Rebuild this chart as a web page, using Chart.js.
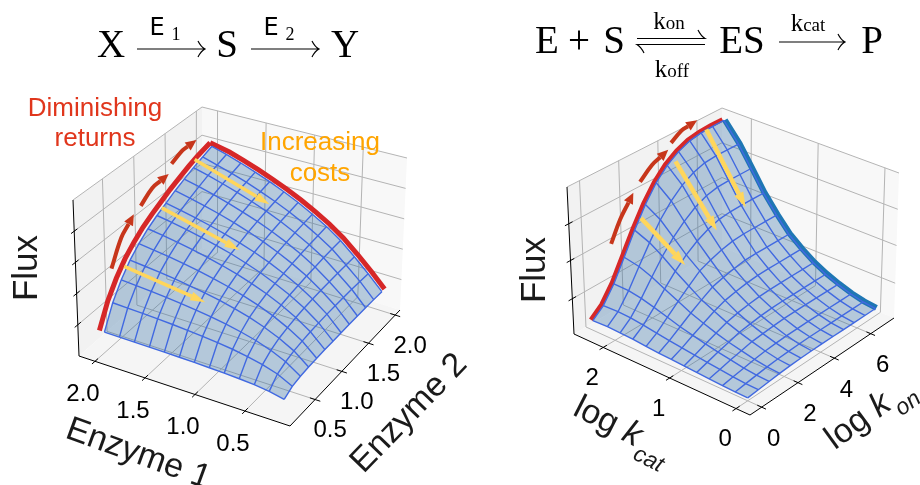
<!DOCTYPE html>
<html>
<head>
<meta charset="utf-8">
<title>Flux surfaces</title>
<script src="https://cdn.jsdelivr.net/npm/chart.js@4/dist/chart.umd.js"></script>
<style>
html, body { margin: 0; padding: 0; background: #fff; }
#chart { display: block; }
</style>
</head>
<body>
<canvas id="chart" width="920" height="485"></canvas>
<script>
// left surface: rows follow enzyme1Grid, columns follow enzyme2Grid
const enzyme1Grid = [0.2, 0.35, 0.5, 0.65, 0.8, 0.95, 1.1, 1.25, 1.4, 1.55, 1.7, 1.85, 2.0];
const enzyme2Grid = [0.2, 0.35, 0.5, 0.65, 0.8, 0.95, 1.1, 1.25, 1.4, 1.55, 1.7, 1.85, 2.0];
const enzymeFlux = [
    [.074, .103, .114, .120, .123, .125, .126, .127, .128, .128, .128, .127, .125],
    [.093, .149, .174, .191, .201, .208, .213, .217, .219, .220, .220, .218, .215],
    [.104, .178, .216, .241, .257, .270, .279, .286, .290, .293, .296, .298, .300],
    [.111, .198, .248, .281, .304, .321, .334, .344, .354, .362, .370, .376, .380],
    [.116, .214, .272, .314, .342, .364, .380, .394, .407, .419, .429, .437, .446],
    [.119, .226, .293, .341, .374, .401, .421, .438, .454, .468, .481, .492, .502],
    [.122, .236, .309, .364, .402, .433, .456, .476, .496, .512, .528, .541, .554],
    [.124, .244, .323, .383, .426, .461, .488, .510, .533, .552, .570, .585, .600],
    [.126, .251, .335, .400, .447, .485, .515, .540, .566, .587, .608, .625, .642],
    [.127, .257, .345, .415, .465, .507, .540, .567, .596, .620, .643, .662, .681],
    [.128, .262, .354, .428, .482, .527, .562, .592, .623, .649, .674, .695, .717],
    [.129, .266, .362, .439, .496, .544, .582, .614, .647, .676, .704, .726, .750],
    [.130, .270, .370, .450, .510, .560, .600, .635, .670, .700, .730, .755, .780]
];

// right surface: rows follow kcatGrid, columns follow konGrid
const kcatGrid = [2.33, 2.11, 1.92, 1.73, 1.53, 1.34, 1.15, 0.96, 0.77, 0.58, 0.38, 0.19, 0];
const konGrid = [0, 0.58, 1.17, 1.75, 2.33, 2.92, 3.5, 4.08, 4.67, 5.25, 5.83, 6.42, 7];
const kineticFlux = [
    [.066, .125, .230, .370, .515, .650, .760, .840, .895, .930, .945, .950, .950],
    [.069, .127, .226, .348, .469, .584, .672, .741, .786, .813, .820, .820, .820],
    [.066, .123, .210, .312, .411, .497, .565, .620, .658, .676, .680, .680, .680],
    [.061, .111, .186, .267, .344, .412, .464, .503, .528, .538, .540, .540, .540],
    [.053, .097, .159, .222, .281, .340, .371, .397, .414, .420, .420, .420, .420],
    [.047, .085, .132, .180, .224, .266, .288, .305, .318, .320, .320, .320, .320],
    [.043, .074, .112, .148, .184, .212, .228, .241, .249, .250, .250, .250, .250],
    [.037, .063, .092, .119, .146, .164, .176, .185, .189, .190, .190, .190, .190],
    [.032, .053, .075, .095, .116, .127, .137, .143, .145, .145, .145, .145, .145],
    [.028, .044, .061, .076, .091, .098, .105, .109, .110, .110, .110, .110, .110],
    [.023, .035, .046, .058, .067, .073, .077, .079, .080, .080, .080, .080, .080],
    [.019, .028, .037, .045, .051, .055, .058, .060, .060, .060, .060, .060, .060],
    [.018, .025, .032, .039, .044, .047, .049, .050, .050, .050, .050, .050, .050]
];

// tick labels
const enzyme1Ticks = [2.0, 1.5, 1.0, 0.5];
const enzyme2Ticks = [0.5, 1.0, 1.5, 2.0];
const kcatTicks = [2, 1, 0];
const konTicks = [0, 2, 4, 6];
const enzymeFluxTicks = [0.2, 0.4, 0.6, 0.8];
const kineticFluxTicks = [0.24, 0.5, 0.75];

// annotation arrows as [first axis, second axis, flux]
const enzymeCosts = [
    [[2.0, 0.553, .44], [1.27, 0.69, .306]],
    [[2.0, 1.18, .625], [1.14, 1.06, .547]],
    [[2.0, 1.72, .78], [1.18, 1.637, .65]]
];
const enzymeReturns = [
    [[2.14, 0.57, .392], [2.14, 0.74, .541], [2.14, 0.95, .63]],
    [[2.14, 1.064, .65], [2.14, 1.254, .71], [2.14, 1.52, .72]],
    [[2.14, 1.567, .775], [2.14, 1.744, .81], [2.14, 1.97, .81]]
];
const kineticCosts = [
    [[2.29, 2.54, .59], [1.75, 2.92, .34]],
    [[2.29, 4.37, .854], [1.79, 4.75, .433]],
    [[2.29, 5.96, .967], [1.90, 6.65, .435]]
];
const kineticReturns = [
    [[2.39, 1.305, .483], [2.39, 1.807, .615], [2.39, 2.524, .75]],
    [[2.39, 2.88, .80], [2.39, 3.51, .873], [2.39, 4.35, .92]],
    [[2.39, 4.50, .958], [2.39, 5.04, 1.007], [2.39, 5.84, 1.023]]
];

// 3D boxes on the page: corners [bottom, top], a falls from A to B, b rises from B to C
const BOX_LEFT = {
    aHi: 2.16, aLo: 0.05, bLo: 0.03, bHi: 2.09,
    A: [[79, 356], [73, 200]], B: [[290, 426], [290, 260]],
    C: [[400, 310], [407, 158]], D: [[202, 248], [202, 107]]
};
const BOX_RIGHT = {
    aHi: 2.44, aLo: -0.21, bLo: -0.64, bHi: 7.28,
    A: [[574, 334], [567, 187]], B: [[750, 415], [750, 249]],
    C: [[894, 318], [899, 173]], D: [[722, 247], [722, 108]]
};

const COLOR_MESH = '#4169e1';
const COLOR_SURFACE = 'rgba(50, 110, 165, 0.33)';
const COLOR_EDGE_RED = '#d62728';
const COLOR_EDGE_BLUE = '#1f77b4';
const COLOR_ARROW_RED = '#c7361b';
const COLOR_ARROW_YELLOW = '#ffd65c';
const COLOR_GRID = '#b4b4b4';

// 箱の中の値をページ座標へ
function project(box, a, b, z) {
    const t1 = (box.aHi - a) / (box.aHi - box.aLo);
    const t2 = (b - box.bLo) / (box.bHi - box.bLo);
    const w = [(1 - t1) * (1 - t2), t1 * (1 - t2), t1 * t2, (1 - t1) * t2];
    const corners = [box.A, box.B, box.C, box.D];
    let x = 0, y = 0;
    for (let i = 0; i < 4; i++) {
        x += w[i] * (corners[i][0][0] * (1 - z) + corners[i][1][0] * z);
        y += w[i] * (corners[i][0][1] * (1 - z) + corners[i][1][1] * z);
    }
    return { x: x, y: y };
}

const datasets = [];
function addLine(points, color, width, extra) {
    datasets.push(Object.assign({
        data: points,
        showLine: true,
        pointRadius: 0,
        borderColor: color,
        borderWidth: width,
        tension: 0,
        clip: false,
        order: -datasets.length
    }, extra || {}));
}
function addShape(points, color) {
    addLine(points, 'rgba(0,0,0,0)', 0, { fill: 'shape', backgroundColor: color });
}

function addArrow(box, values, color, width, headLength, headWidth, tension) {
    const pts = values.map(v => project(box, v[0], v[1], v[2]));
    const tip = pts[pts.length - 1];
    const prev = pts[pts.length - 2];
    const len = Math.hypot(tip.x - prev.x, tip.y - prev.y);
    const ux = (tip.x - prev.x) / len, uy = (tip.y - prev.y) / len;
    const base = { x: tip.x - ux * headLength, y: tip.y - uy * headLength };
    const line = pts.slice(0, -1).concat([base]);
    addLine(line, color, width, { tension: tension });
    addShape([
        tip,
        { x: base.x - uy * headWidth / 2, y: base.y + ux * headWidth / 2 },
        { x: base.x + uy * headWidth / 2, y: base.y - ux * headWidth / 2 },
        tip
    ], color);
}

function buildPanel(box, aGrid, bGrid, flux, aTicks, bTicks, zTicks, opts) {
    const lastA = aGrid.indexOf(Math.max.apply(null, aGrid));
    const last = bGrid.length - 1;

    // 壁と床
    addShape([project(box, box.aHi, box.bLo, 0), project(box, box.aHi, box.bLo, 1), project(box, box.aHi, box.bHi, 1), project(box, box.aHi, box.bHi, 0)], '#f2f2f2');
    addShape([project(box, box.aHi, box.bHi, 0), project(box, box.aHi, box.bHi, 1), project(box, box.aLo, box.bHi, 1), project(box, box.aLo, box.bHi, 0)], '#f8f8f8');
    addShape([project(box, box.aHi, box.bLo, 0), project(box, box.aLo, box.bLo, 0), project(box, box.aLo, box.bHi, 0), project(box, box.aHi, box.bHi, 0)], '#f5f5f5');

    // グリッド
    aTicks.forEach(a => {
        addLine([project(box, a, box.bLo, 0), project(box, a, box.bHi, 0), project(box, a, box.bHi, 1)], COLOR_GRID, 1);
    });
    bTicks.forEach(b => {
        addLine([project(box, box.aLo, b, 0), project(box, box.aHi, b, 0), project(box, box.aHi, b, 1)], COLOR_GRID, 1);
    });
    zTicks.concat([1]).forEach(z => {
        addLine([project(box, box.aHi, box.bLo, z), project(box, box.aHi, box.bHi, z), project(box, box.aLo, box.bHi, z)], COLOR_GRID, 1);
    });

    // 軸
    addLine([project(box, box.aHi, box.bLo, 1), project(box, box.aHi, box.bLo, 0), project(box, box.aLo, box.bLo, 0), project(box, box.aLo, box.bHi, 0)], '#000', 1);
    const tickA = (box.aHi - box.aLo) * 0.025;
    const tickB = (box.bHi - box.bLo) * 0.025;
    aTicks.forEach(a => addLine([project(box, a, box.bLo - tickB, 0), project(box, a, box.bLo + tickB, 0)], '#000', 1));
    bTicks.forEach(b => addLine([project(box, box.aLo - tickA, b, 0), project(box, box.aLo + tickA, b, 0)], '#000', 1));
    zTicks.forEach(z => addLine([project(box, box.aHi, box.bLo - tickB, z), project(box, box.aHi, box.bLo + tickB, z)], '#000', 1));

    // 赤い縁
    const outA = aGrid[lastA] + opts.edgeOut;
    const outB = bGrid[last] + opts.edgeOut;
    addLine(bGrid.map((b, j) => project(box, outA, j === last ? outB : b, flux[lastA][j])), COLOR_EDGE_RED, opts.redWidth);
    if (opts.bothRed) {
        addLine(aGrid.map((a, i) => project(box, i === lastA ? outA : a, outB, flux[i][last])), COLOR_EDGE_RED, opts.redWidth);
    }

    // 面
    const outline = [];
    for (let j = 0; j <= last; j++) outline.push(project(box, aGrid[0], bGrid[j], flux[0][j]));
    for (let i = 1; i < aGrid.length; i++) outline.push(project(box, aGrid[i], bGrid[last], flux[i][last]));
    for (let j = last - 1; j >= 0; j--) outline.push(project(box, aGrid[aGrid.length - 1], bGrid[j], flux[aGrid.length - 1][j]));
    for (let i = aGrid.length - 2; i >= 0; i--) outline.push(project(box, aGrid[i], bGrid[0], flux[i][0]));
    addShape(outline, COLOR_SURFACE);

    if (opts.blueEdge) {
        addLine(aGrid.map((a, i) => project(box, a, bGrid[last] + opts.blueOut, flux[i][last])), COLOR_EDGE_BLUE, opts.blueEdge);
    }

    // メッシュ
    aGrid.forEach((a, i) => addLine(bGrid.map((b, j) => project(box, a, b, flux[i][j])), COLOR_MESH, 1.4));
    bGrid.forEach((b, j) => addLine(aGrid.map((a, i) => project(box, a, b, flux[i][j])), COLOR_MESH, 1.4));
}

buildPanel(BOX_LEFT, enzyme1Grid, enzyme2Grid, enzymeFlux, enzyme1Ticks, enzyme2Ticks, enzymeFluxTicks,
    { edgeOut: 0.05, redWidth: 5, bothRed: true });
buildPanel(BOX_RIGHT, kcatGrid, konGrid, kineticFlux, kcatTicks, konTicks, kineticFluxTicks,
    { edgeOut: 0.03, redWidth: 4.5, bothRed: false, blueEdge: 6, blueOut: 0.05 });

enzymeCosts.forEach(v => addArrow(BOX_LEFT, v, COLOR_ARROW_YELLOW, 3.5, 15, 9, 0));
enzymeReturns.forEach(v => addArrow(BOX_LEFT, v, COLOR_ARROW_RED, 4, 11, 10, 0.4));
kineticCosts.forEach(v => addArrow(BOX_RIGHT, v, COLOR_ARROW_YELLOW, 4.5, 15, 10, 0));
kineticReturns.forEach(v => addArrow(BOX_RIGHT, v, COLOR_ARROW_RED, 4, 11, 10, 0.4));

const SANS = '"Liberation Sans"';
const SERIF = '"Liberation Serif"';

function drawRuns(ctx, x, y, angle, runs) {
    ctx.save();
    ctx.translate(x, y);
    ctx.rotate(angle * Math.PI / 180);
    ctx.textBaseline = 'alphabetic';
    ctx.textAlign = 'left';
    let total = 0;
    runs.forEach(r => { ctx.font = r.font; total += ctx.measureText(r.text).width + (r.gap || 0); });
    let pos = -total / 2;
    runs.forEach(r => {
        ctx.font = r.font;
        ctx.fillStyle = r.color || '#1a1a1a';
        ctx.fillText(r.text, pos, r.dy || 0);
        pos += ctx.measureText(r.text).width + (r.gap || 0);
    });
    ctx.restore();
}

function centerText(ctx, text, x, y, font, color) {
    ctx.font = font;
    ctx.fillStyle = color;
    ctx.textAlign = 'center';
    ctx.textBaseline = 'middle';
    ctx.fillText(text, x, y);
}

const textPlugin = {
    id: 'chartText',
    afterDatasetsDraw(chart) {
        const ctx = chart.ctx;
        const px = p => ({ x: chart.scales.x.getPixelForValue(p.x), y: chart.scales.y.getPixelForValue(p.y) });

        // 目盛りラベル
        const tickFont = '24px ' + SANS;
        enzyme1Ticks.forEach(v => {
            const p = px(project(BOX_LEFT, v, BOX_LEFT.bLo, 0));
            centerText(ctx, v.toFixed(1), p.x - 12, p.y + 33, tickFont, '#000');
        });
        enzyme2Ticks.forEach(v => {
            const p = px(project(BOX_LEFT, BOX_LEFT.aLo, v, 0));
            centerText(ctx, v.toFixed(1), p.x + 15, p.y + 31, tickFont, '#000');
        });
        kcatTicks.forEach(v => {
            const p = px(project(BOX_RIGHT, v, BOX_RIGHT.bLo, 0));
            centerText(ctx, String(v), p.x - 11, p.y + 31, tickFont, '#000');
        });
        konTicks.forEach(v => {
            const p = px(project(BOX_RIGHT, BOX_RIGHT.aLo, v, 0));
            centerText(ctx, String(v), p.x + 12, p.y + 32, tickFont, '#000');
        });

        // 軸タイトル
        const axisFont = '34px ' + SANS;
        drawRuns(ctx, 135, 463, 20, [{ text: 'Enzyme 1', font: axisFont }]);
        drawRuns(ctx, 416, 420, -46, [{ text: 'Enzyme 2', font: axisFont }]);
        drawRuns(ctx, 37, 268, -90, [{ text: 'Flux', font: '35px ' + SANS }]);
        drawRuns(ctx, 545, 270, -90, [{ text: 'Flux', font: '35px ' + SANS }]);
        drawRuns(ctx, 618, 438, 27, [
            { text: 'log ', font: axisFont },
            { text: 'k', font: 'italic ' + axisFont, gap: 2 },
            { text: 'cat', font: 'italic 23px ' + SANS, dy: 12 }
        ]);
        drawRuns(ctx, 875, 421, -36, [
            { text: 'log ', font: axisFont },
            { text: 'k', font: 'italic ' + axisFont, gap: 2 },
            { text: 'on', font: 'italic 23px ' + SANS, dy: 12 }
        ]);

        // 注釈
        const noteFont = '26px ' + SANS;
        centerText(ctx, 'Diminishing', 95, 109, noteFont, '#e0361c');
        centerText(ctx, 'returns', 95, 139, noteFont, '#e0361c');
        centerText(ctx, 'Increasing', 320, 143, noteFont, '#ffa500');
        centerText(ctx, 'costs', 320, 174, noteFont, '#ffa500');

        // 反応式
        const eq = '39px ' + SERIF;
        centerText(ctx, 'X', 111, 47, eq, '#000');
        centerText(ctx, 'S', 227, 47, eq, '#000');
        centerText(ctx, 'Y', 345, 47, eq, '#000');
        centerText(ctx, 'E', 157, 29, '24px "DejaVu Sans"', '#000');
        centerText(ctx, '1', 176, 35, '18px ' + SERIF, '#000');
        centerText(ctx, 'E', 271, 29, '24px "DejaVu Sans"', '#000');
        centerText(ctx, '2', 290, 35, '18px ' + SERIF, '#000');
        centerText(ctx, 'E', 547, 43, eq, '#000');
        centerText(ctx, '+', 579, 43, eq, '#000');
        centerText(ctx, 'S', 614, 43, eq, '#000');
        centerText(ctx, 'ES', 742, 43, eq, '#000');
        centerText(ctx, 'P', 872, 43, eq, '#000');
        drawRuns(ctx, 669, 29, 0, [{ text: 'k', font: '25px ' + SERIF, color: '#000' }, { text: 'on', font: '19px ' + SERIF, color: '#000' }]);
        drawRuns(ctx, 672, 77, 0, [{ text: 'k', font: '25px ' + SERIF, color: '#000' }, { text: 'off', font: '19px ' + SERIF, color: '#000' }]);
        drawRuns(ctx, 808, 31, 0, [{ text: 'k', font: '25px ' + SERIF, color: '#000' }, { text: 'cat', font: '19px ' + SERIF, color: '#000' }]);

        ctx.save();
        ctx.strokeStyle = '#000';
        ctx.lineWidth = 1.2;
        [[137, 205, 49], [251, 319, 49], [779, 845, 42]].forEach(a => {
            ctx.beginPath();
            ctx.moveTo(a[0], a[2]);
            ctx.lineTo(a[1], a[2]);
            ctx.moveTo(a[1] - 7, a[2] - 8);
            ctx.quadraticCurveTo(a[1] - 4, a[2] - 2, a[1], a[2]);
            ctx.quadraticCurveTo(a[1] - 4, a[2] + 2, a[1] - 7, a[2] + 8);
            ctx.stroke();
        });
        ctx.beginPath();
        ctx.moveTo(637, 38.5);
        ctx.lineTo(705, 38.5);
        ctx.quadraticCurveTo(701, 36, 698, 30);
        ctx.moveTo(705, 44.5);
        ctx.lineTo(637, 44.5);
        ctx.quadraticCurveTo(641, 47, 644, 53);
        ctx.stroke();
        ctx.restore();
    }
};

new Chart(document.getElementById('chart'), {
    type: 'scatter',
    data: { datasets: datasets },
    options: {
        responsive: false,
        animation: false,
        layout: { padding: 0 },
        plugins: { legend: { display: false }, tooltip: { enabled: false }, title: { display: false } },
        scales: {
            x: { type: 'linear', min: 0, max: 920, display: false },
            y: { type: 'linear', min: 0, max: 485, reverse: true, display: false }
        }
    },
    plugins: [textPlugin]
});
</script>
</body>
</html>
